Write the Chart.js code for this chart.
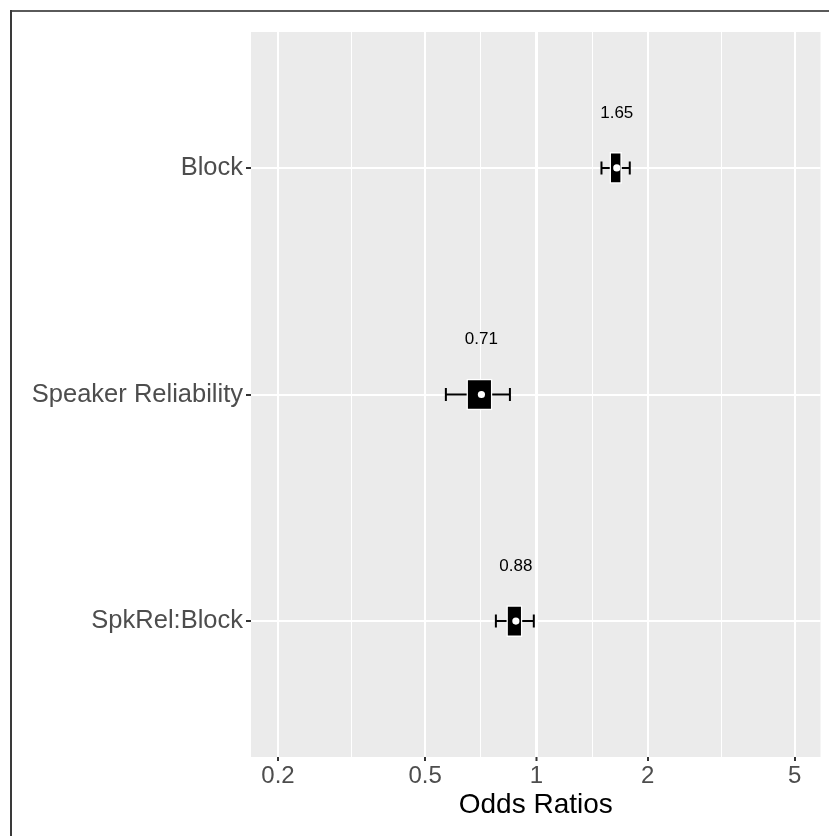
<!DOCTYPE html>
<html>
<head>
<meta charset="utf-8">
<script src="https://cdn.jsdelivr.net/npm/chart.js@4"></script>
<style>
  html, body { margin: 0; padding: 0; background: #fff; }
  #wrap { position: relative; width: 829px; height: 836px; }
</style>
</head>
<body>
<div id="wrap"><canvas id="myChart" width="829" height="836"></canvas></div>
<script>
// terms, top to bottom
const terms = ['Block', 'Speaker Reliability', 'SpkRel:Block'];
const estimates = [1.65, 0.71, 0.88];
// inner interval (thick box)
const innerLow = [1.58, 0.648, 0.831];
const innerHigh = [1.70, 0.759, 0.915];
// outer interval (whiskers)
const outerLow = [1.50, 0.569, 0.777];
const outerHigh = [1.789, 0.848, 0.984];
// x axis
const majorTicks = [0.2, 0.5, 1, 2, 5];
const minorTicks = [0.316, 0.707, 1.414, 3.162];

const FONT = "'Liberation Sans', Arial, sans-serif";

document.addEventListener('DOMContentLoaded', function() {
    const isMajor = v => majorTicks.some(m => Math.abs(m - v) < 1e-6);

    // grey panel + outer frame
    const panelBg = {
        id: 'panelBg',
        beforeDraw(chart) {
            const { ctx, chartArea: a } = chart;
            ctx.save();
            ctx.fillStyle = '#EBEBEB';
            ctx.fillRect(a.left, a.top, a.right - a.left, a.bottom - a.top);
            ctx.fillStyle = '#5a5a5a';
            ctx.fillRect(10, 10, 829, 2);
            ctx.fillStyle = '#3a3a3a';
            ctx.fillRect(10, 10, 2, 836);
            ctx.restore();
        }
    };

    // value labels above each estimate
    const valueLabels = {
        id: 'valueLabels',
        afterDatasetsDraw(chart) {
            const { ctx, scales } = chart;
            ctx.save();
            ctx.font = '17px ' + FONT;
            ctx.fillStyle = '#000';
            ctx.textAlign = 'center';
            ctx.textBaseline = 'middle';
            estimates.forEach((v, i) => {
                const x = scales.x.getPixelForValue(v);
                const y = scales.y.getPixelForValue(i) - 55;
                ctx.fillText(v.toFixed(2), x, y);
            });
            ctx.restore();
        }
    };

    const whiskers = terms.map((t, i) => ({
        type: 'line',
        data: [{ x: outerLow[i], y: i }, { x: outerHigh[i], y: i }],
        borderColor: '#000',
        borderWidth: 2,
        pointStyle: 'line',
        rotation: 90,
        pointRadius: 6.5,
        pointBorderWidth: 2,
        pointBorderColor: '#000',
        order: 3
    }));

    new Chart(document.getElementById('myChart'), {
        type: 'bar',
        data: {
            datasets: [
                {
                    type: 'bar',
                    data: terms.map((t, i) => ({ x: [innerLow[i], innerHigh[i]], y: i })),
                    backgroundColor: '#000',
                    borderColor: '#fff',
                    borderWidth: 1.5,
                    borderSkipped: false,
                    barThickness: 31,
                    order: 2
                },
                ...whiskers,
                {
                    type: 'scatter',
                    data: terms.map((t, i) => ({ x: estimates[i], y: i })),
                    pointRadius: 3.6,
                    pointBackgroundColor: '#fff',
                    pointBorderWidth: 0,
                    order: 1
                }
            ]
        },
        options: {
            indexAxis: 'y',
            responsive: false,
            devicePixelRatio: 1,
            animation: false,
            layout: { padding: { top: 32, right: 8, left: 0, bottom: 0 } },
            plugins: {
                legend: { display: false },
                tooltip: { enabled: false }
            },
            scales: {
                x: {
                    type: 'logarithmic',
                    min: 0.169,
                    max: 5.87,
                    afterBuildTicks: s => {
                        s.ticks = majorTicks.concat(minorTicks).sort((a, b) => a - b).map(v => ({ value: v }));
                    },
                    afterFit: s => { s.height = 79; },
                    border: { display: false },
                    grid: {
                        color: '#fff',
                        lineWidth: c => c.tick && Math.abs(c.tick.value - 1) < 1e-6 ? 3 : (c.tick && isMajor(c.tick.value) ? 2 : 1),
                        tickColor: c => c.tick && isMajor(c.tick.value) ? '#333' : 'rgba(0,0,0,0)',
                        tickLength: 4,
                        tickWidth: 2
                    },
                    ticks: {
                        autoSkip: false,
                        maxRotation: 0,
                        padding: 1,
                        color: '#4D4D4D',
                        font: { family: FONT, size: 24 },
                        callback: v => isMajor(v) ? String(v) : ''
                    },
                    title: {
                        display: true,
                        text: 'Odds Ratios',
                        color: '#000',
                        font: { family: FONT, size: 28 },
                        padding: { top: 0, bottom: 14 }
                    }
                },
                y: {
                    type: 'linear',
                    reverse: true,
                    offset: false,
                    min: -0.6,
                    max: 2.6,
                    afterBuildTicks: s => {
                        s.ticks = terms.map((t, i) => ({ value: i }));
                    },
                    afterFit: s => { s.width = 251; },
                    border: { display: false },
                    grid: {
                        offset: false,
                        color: '#fff',
                        lineWidth: 2,
                        tickColor: '#333',
                        tickLength: 5,
                        tickWidth: 2
                    },
                    ticks: {
                        padding: 3,
                        color: '#4D4D4D',
                        font: { family: FONT, size: 25.5 },
                        callback: v => terms[v] || ''
                    }
                }
            }
        },
        plugins: [panelBg, valueLabels]
    });
});
</script>
</body>
</html>
